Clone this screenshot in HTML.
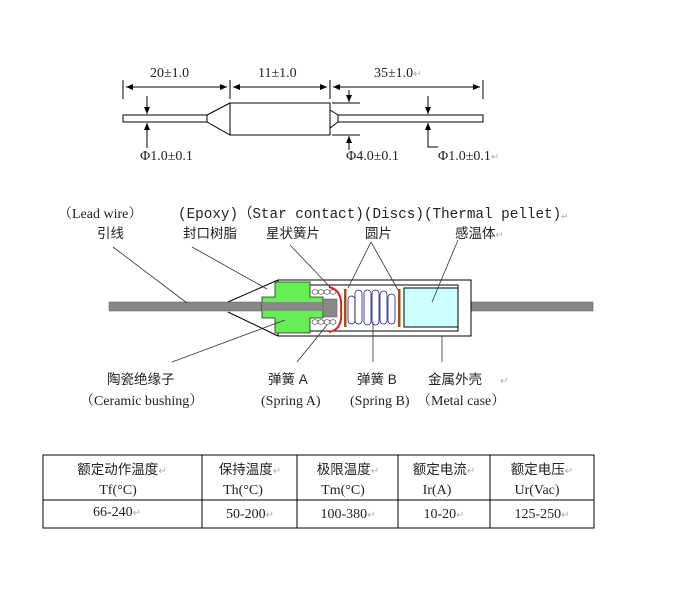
<!DOCTYPE html>
<html><head><meta charset="utf-8"><style>
html,body{margin:0;padding:0;background:#fff;}
svg{display:block;}
text{font-family:"Liberation Serif","Noto Serif CJK SC","Noto Sans CJK SC",serif;font-size:14px;fill:#222;}
.m{font-family:"Liberation Mono","Noto Sans CJK SC",monospace;font-size:14.3px;}
.c{font-family:"Liberation Sans","Noto Sans CJK SC",sans-serif;font-size:13.5px;}
.g{fill:#aaa;font-size:10px;}
</style></head><body>
<svg width="683" height="589" viewBox="0 0 683 589" xmlns="http://www.w3.org/2000/svg">
<defs>
<marker id="a" markerWidth="8" markerHeight="8" refX="7" refY="4" orient="auto" markerUnits="userSpaceOnUse"><path d="M0,1 L7,4 L0,7 z" fill="#000"/></marker>
</defs>
<g stroke="#000" stroke-width="1" fill="none">
<line x1="123" y1="80" x2="123" y2="99"/><line x1="230" y1="80" x2="230" y2="99"/>
<line x1="330" y1="80" x2="330" y2="99"/><line x1="483" y1="80" x2="483" y2="99"/>
<line x1="126" y1="87" x2="227" y2="87" marker-end="url(#a)"/><line x1="227" y1="87" x2="126" y2="87" marker-end="url(#a)"/>
<line x1="233" y1="87" x2="327" y2="87" marker-end="url(#a)"/><line x1="327" y1="87" x2="233" y2="87" marker-end="url(#a)"/>
<line x1="333" y1="87" x2="480" y2="87" marker-end="url(#a)"/><line x1="480" y1="87" x2="333" y2="87" marker-end="url(#a)"/>
<rect x="123" y="115" width="84" height="7"/>
<path d="M207,115 L230,103 M207,122 L230,135"/>
<rect x="230" y="103" width="100" height="32"/>
<path d="M330,110 L338,115 M330,128 L338,122"/>
<rect x="338" y="115" width="145" height="7"/>
<line x1="332" y1="103" x2="360" y2="103"/><line x1="332" y1="135" x2="360" y2="135"/>
<line x1="349" y1="90" x2="349" y2="102" marker-end="url(#a)"/>
<line x1="349" y1="150" x2="349" y2="136" marker-end="url(#a)"/>
<line x1="147" y1="96" x2="147" y2="114" marker-end="url(#a)"/>
<path d="M147,148 L147,123" marker-end="url(#a)"/>
<line x1="428" y1="96" x2="428" y2="114" marker-end="url(#a)"/>
<path d="M438,147 L428,147 L428,123" marker-end="url(#a)"/>
</g>
<text x="150" y="77">20±1.0</text>
<text x="258" y="77">11±1.0</text>
<text x="374" y="77">35±1.0<tspan class="g">↵</tspan></text>
<text x="140" y="160">Φ1.0±0.1</text>
<text x="346" y="160">Φ4.0±0.1</text>
<text x="438" y="160">Φ1.0±0.1<tspan class="g">↵</tspan></text>

<text x="58" y="218">（Lead wire）</text>
<text class="m" x="178" y="218">(Epoxy)（Star contact)(Discs)(Thermal pellet)<tspan class="g">↵</tspan></text>
<text class="c" x="97" y="238">引线</text>
<text class="c" x="183" y="238">封口树脂</text>
<text class="c" x="266" y="238">星状簧片</text>
<text class="c" x="365" y="238">圆片</text>
<text class="c" x="455" y="238">感温体<tspan class="g">↵</tspan></text>

<rect x="109" y="302" width="216" height="9" fill="#888" stroke="#555" stroke-width="0.5"/>
<rect x="471" y="302" width="122" height="9" fill="#888" stroke="#555" stroke-width="0.5"/>
<g stroke="#000" stroke-width="1" fill="none">
<rect x="278" y="280" width="193" height="56" fill="none"/>
<path d="M278,285 L458,285 L458,331 L278,331"/>
<path d="M228,302 L278,280 M228,312 L278,336"/>
</g>
<path d="M275,282 H310 V297 H323 V318 H310 V333 H275 V318 H262 V297 H275 Z" fill="#66ee55" stroke="#222" stroke-width="0.8"/>
<rect x="262" y="302" width="61" height="9" fill="#888"/>
<rect x="323" y="299" width="14" height="18" fill="#888" stroke="#555" stroke-width="0.5"/>
<g fill="none" stroke="#444" stroke-width="0.7">
<ellipse cx="315" cy="292" rx="3" ry="2.3"/><ellipse cx="321" cy="292" rx="3" ry="2.3"/><ellipse cx="327" cy="292" rx="3" ry="2.3"/><ellipse cx="333" cy="292" rx="3" ry="2.3"/>
<ellipse cx="315" cy="322" rx="3" ry="2.3"/><ellipse cx="321" cy="322" rx="3" ry="2.3"/><ellipse cx="327" cy="322" rx="3" ry="2.3"/><ellipse cx="333" cy="322" rx="3" ry="2.3"/>
</g>
<path d="M329,287 Q343,290 341,310 Q343,330 329,332" fill="none" stroke="#e02020" stroke-width="2"/>
<rect x="344" y="289" width="2.5" height="38" fill="#a0501a"/>
<rect x="398" y="289" width="2.5" height="38" fill="#a0501a"/>
<g fill="none" stroke="#1a1a8a" stroke-width="0.8">
<rect x="348" y="296" width="7" height="28" rx="3.5"/>
<rect x="355" y="290" width="7" height="34" rx="3.5"/>
<rect x="364" y="290" width="7" height="35" rx="3.5"/>
<rect x="372" y="290" width="7" height="35" rx="3.5"/>
<rect x="380" y="291" width="7" height="33" rx="3.5"/>
<rect x="388" y="294" width="7" height="30" rx="3.5"/>
</g>
<rect x="404" y="288" width="54" height="39" fill="#ccffff" stroke="#000" stroke-width="1"/>
<g stroke="#333" stroke-width="0.8">
<line x1="113" y1="247" x2="187" y2="303"/>
<line x1="192" y1="247" x2="267" y2="289"/>
<line x1="290" y1="245" x2="330" y2="287"/>
<line x1="371" y1="242" x2="348" y2="288"/><line x1="371" y1="242" x2="398" y2="290"/>
<line x1="458" y1="240" x2="432" y2="302"/>
<line x1="172" y1="362" x2="285" y2="320"/>
<line x1="297" y1="362" x2="327" y2="325"/>
<line x1="373" y1="362" x2="373" y2="322"/>
<line x1="442" y1="336" x2="442" y2="362"/>
</g>
<text class="c" x="107" y="384">陶瓷绝缘子</text>
<text class="c" x="268" y="384">弹簧 A</text>
<text class="c" x="357" y="384">弹簧 B</text>
<text class="c" x="428" y="384">金属外壳</text>
<text class="g" x="500" y="384">↵</text>
<text x="80" y="405">（Ceramic bushing）</text>
<text x="261" y="405">(Spring A)</text>
<text x="350" y="405">(Spring B)</text>
<text x="417" y="405">（Metal case）</text>

<g stroke="#000" stroke-width="1" fill="none">
<rect x="43" y="455" width="551" height="73"/>
<line x1="43" y1="500" x2="594" y2="500"/>
<line x1="202" y1="455" x2="202" y2="528"/>
<line x1="297" y1="455" x2="297" y2="528"/>
<line x1="398" y1="455" x2="398" y2="528"/>
<line x1="490" y1="455" x2="490" y2="528"/>
</g>
<g text-anchor="middle">
<text class="c" x="122" y="474">额定动作温度<tspan class="g">↵</tspan></text>
<text class="c" x="250" y="474">保持温度<tspan class="g">↵</tspan></text>
<text class="c" x="348" y="474">极限温度<tspan class="g">↵</tspan></text>
<text class="c" x="444" y="474">额定电流<tspan class="g">↵</tspan></text>
<text class="c" x="542" y="474">额定电压<tspan class="g">↵</tspan></text>
<text x="118" y="494">Tf(°C)</text>
<text x="243" y="494">Th(°C)</text>
<text x="343" y="494">Tm(°C)</text>
<text x="437" y="494">Ir(A)</text>
<text x="537" y="494">Ur(Vac)</text>
<text x="117" y="516">66-240<tspan class="g">↵</tspan></text>
<text x="250" y="518">50-200<tspan class="g">↵</tspan></text>
<text x="348" y="518">100-380<tspan class="g">↵</tspan></text>
<text x="444" y="518">10-20<tspan class="g">↵</tspan></text>
<text x="542" y="518">125-250<tspan class="g">↵</tspan></text>
</g>
</svg>
</body></html>
